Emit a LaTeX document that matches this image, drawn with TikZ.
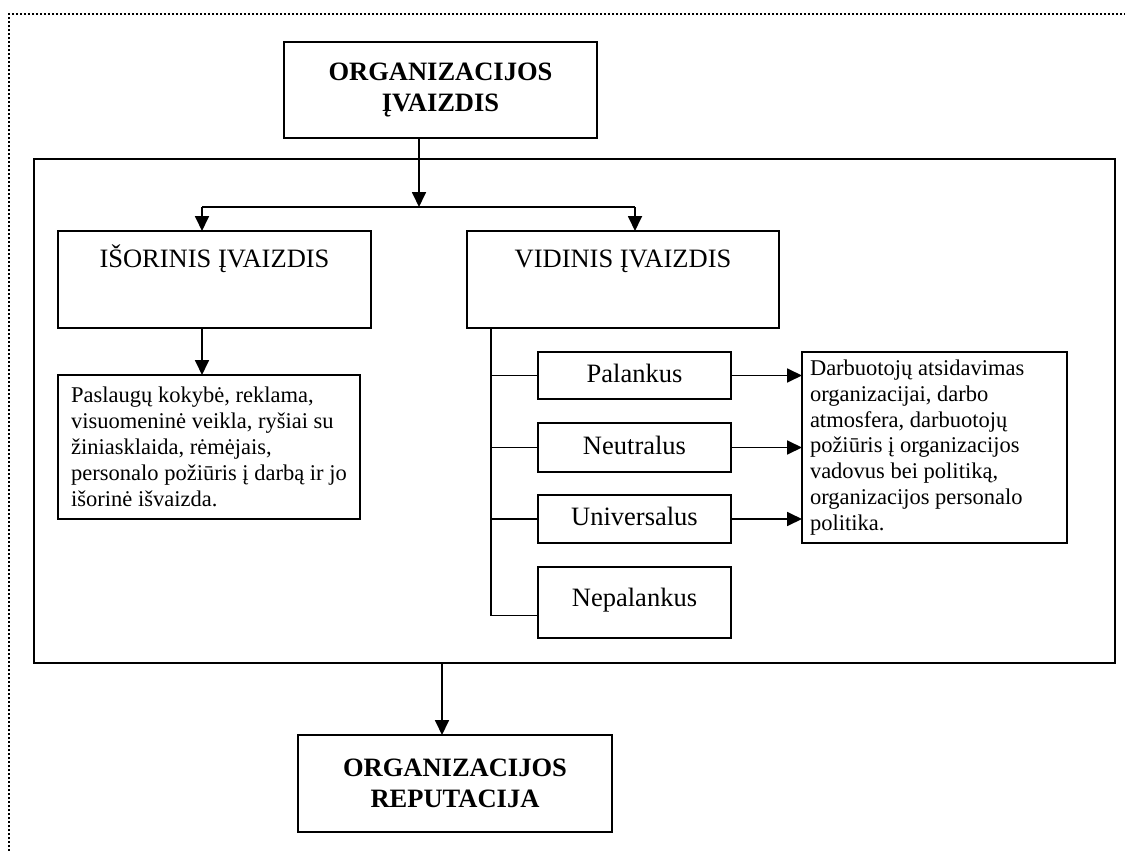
\documentclass[tikz,border=0pt]{standalone}
\usepackage{fontspec}
\setmainfont{Liberation Serif}
\usetikzlibrary{arrows.meta}
\begin{document}
\begin{tikzpicture}[x=1pt,y=-1pt,
  box/.style={draw, line width=1.8pt, inner sep=0pt, outer sep=0pt, anchor=north west},
  big/.style={font=\fontsize{26.5}{30.5}\selectfont},
  bigb/.style={font=\bfseries\fontsize{26.5}{30.5}\selectfont},
  small/.style={font=\fontsize{22.5}{25.9}\selectfont},
  ln/.style={line width=1.8pt},
  arr/.style={line width=1.8pt, -{Triangle[length=15pt,width=14pt]}},
  dots/.style={line width=2pt, dash pattern=on 2pt off 2pt}
]
\useasboundingbox (0,0) rectangle (1125,851);
\draw[dots] (9,851) -- (9,14) -- (1125,14);

\node[box, bigb, align=center, minimum width=313pt, minimum height=96pt] (top) at (284,42) {ORGANIZACIJOS\\ĮVAIZDIS};
\node[box, minimum width=1081pt, minimum height=504pt] (outer) at (34,159) {};
\node[box, big, minimum width=313pt, minimum height=97pt, text height=36pt, text depth=61pt] (isor) at (58,231) {IŠORINIS ĮVAIZDIS};
\node[box, big, minimum width=312pt, minimum height=97pt, text height=36pt, text depth=61pt] (vid) at (467,231) {VIDINIS ĮVAIZDIS};
\node[box, small, align=left, minimum width=302pt, minimum height=144pt] (isd) at (58,375) {Paslaugų kokybė, reklama,\\visuomeninė veikla, ryšiai su\\žiniasklaida, rėmėjais,\\personalo požiūris į darbą ir jo\\išorinė išvaizda.};

\node[box, big, minimum width=193pt, minimum height=47pt, text height=19pt, text depth=6pt] (pal) at (538,352) {Palankus};
\node[box, big, minimum width=193pt, minimum height=49pt, text height=19pt, text depth=6pt] (neu) at (538,423) {Neutralus};
\node[box, big, minimum width=193pt, minimum height=48pt, text height=19pt, text depth=6pt] (uni) at (538,495) {Universalus};
\node[box, big, minimum width=193pt, minimum height=71pt, text height=19pt, text depth=12pt] (nep) at (538,567) {Nepalankus};

\node[box, small, align=flush left, text width=249pt, inner xsep=8pt, minimum height=191pt] (vd) at (802,352) {Darbuotojų atsidavimas\\organizacijai, darbo\\atmosfera, darbuotojų\\požiūris į organizacijos\\vadovus bei politiką,\\organizacijos personalo\\politika.};

\node[box, bigb, align=center, minimum width=314pt, minimum height=97pt] (rep) at (298,735) {ORGANIZACIJOS\\REPUTACIJA};

\coordinate (sp) at (419,207);
\coordinate (jl) at (202,207);
\coordinate (jr) at (635,207);
\coordinate (vx) at (491,328);
\coordinate (bx) at (442,663);

\draw[arr] (top.south -| sp) -- (sp);
\draw[ln] (jl) -- (jr);
\draw[arr] (jl) -- (isor.north -| jl);
\draw[arr] (jr) -- (vid.north -| jr);
\draw[arr] (isor.south -| jl) -- (isd.north -| jl);
\draw[ln] (vid.south -| vx) -- ([yshift=-13pt]nep.west -| vx) -- ([yshift=-13pt]nep.west);
\draw[ln] (pal.west -| vx) -- (pal.west);
\draw[ln] (neu.west -| vx) -- (neu.west);
\draw[ln] (uni.west -| vx) -- (uni.west);
\draw[arr] (pal.east) -- (pal.east -| vd.west);
\draw[arr] (neu.east) -- (neu.east -| vd.west);
\draw[arr] (uni.east) -- (uni.east -| vd.west);
\draw[arr] (outer.south -| bx) -- (rep.north -| bx);
\end{tikzpicture}
\end{document}
